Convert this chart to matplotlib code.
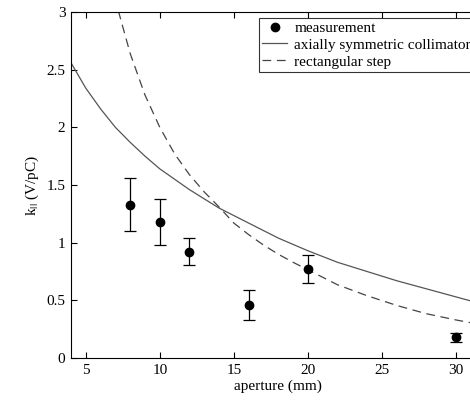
import matplotlib
matplotlib.use("Agg")
import matplotlib.pyplot as plt
from matplotlib.lines import Line2D

# measured loss factor with error bars
aperture_meas = [8, 10, 12, 16, 20, 30]
k_meas = [1.33, 1.18, 0.92, 0.46, 0.77, 0.18]
k_err_low = [0.23, 0.20, 0.11, 0.13, 0.12, 0.04]
k_err_high = [0.23, 0.20, 0.12, 0.13, 0.12, 0.04]

# axially symmetric collimator model
aperture_axi = [4, 5, 6, 7, 8, 9, 10, 12, 14, 16, 18, 20, 22, 24, 26, 28, 30, 32]
k_axi = [2.56, 2.34, 2.16, 2.00, 1.87, 1.75, 1.64, 1.46, 1.30, 1.17,
         1.04, 0.93, 0.83, 0.75, 0.67, 0.60, 0.53, 0.46]

# rectangular step model
aperture_rect = [7.2, 8, 9, 10, 11, 12, 13, 14, 15, 16, 17, 18, 19, 20,
                 21, 22, 24, 26, 28, 30, 32]
k_rect = [3.01, 2.64, 2.28, 2.00, 1.77, 1.59, 1.44, 1.31, 1.17, 1.07,
          0.98, 0.90, 0.83, 0.765, 0.70, 0.635, 0.54, 0.456, 0.384, 0.33, 0.282]

x_ticks = [5, 10, 15, 20, 25, 30]
y_ticks = [0, 0.5, 1, 1.5, 2, 2.5, 3]
y_tick_labels = ["0", "0.5", "1", "1.5", "2", "2.5", "3"]

plt.rcParams["font.family"] = ["Liberation Serif", "DejaVu Serif"]
plt.rcParams["mathtext.fontset"] = "stix"
plt.rcParams["font.size"] = 11

fig = plt.figure(figsize=(4.7, 4.0), dpi=100)
# the plot area runs past the right edge of the figure
ax = fig.add_axes([0.151, 0.105, 0.882, 0.865])

ax.errorbar(aperture_meas, k_meas, yerr=[k_err_low, k_err_high],
            fmt="o", color="black", markersize=6, elinewidth=0.9,
            capsize=4.5, capthick=0.9, zorder=3)
line_axi, = ax.plot(aperture_axi, k_axi, color="#555555", linewidth=0.9)
line_rect, = ax.plot(aperture_rect, k_rect, color="#444444", linewidth=0.9,
                     dashes=(7, 4.5))

ax.set_xlim(4, 32)
ax.set_ylim(0, 3)
ax.set_xticks(x_ticks)
ax.set_yticks(y_ticks)
ax.set_yticklabels(y_tick_labels)
ax.tick_params(direction="in", length=4, width=0.8, top=True, right=True,
               labelsize=11, pad=4)
for spine in ax.spines.values():
    spine.set_linewidth(0.8)

ax.set_xlabel("aperture (mm)", fontsize=11, labelpad=2)
ax.set_ylabel(r"k$_{||}$ (V/pC)", fontsize=11, labelpad=4)

# legend shows the measurement as a plain dot
meas_handle = Line2D([], [], linestyle="none", marker="o", color="black",
                     markersize=6)
leg = ax.legend([meas_handle, line_axi, line_rect],
                ["measurement", "axially symmetric collimator", "rectangular step"],
                loc="upper left", bbox_to_anchor=(259.3 / 470, 1 - 18.3 / 400),
                bbox_transform=fig.transFigure, borderaxespad=0,
                fontsize=11, frameon=True, fancybox=False, edgecolor="black",
                handlelength=1.6, handletextpad=0.5, labelspacing=0.2,
                borderpad=0.2, numpoints=1)
leg.get_frame().set_linewidth(0.8)

fig.savefig("out.png", dpi=100)
